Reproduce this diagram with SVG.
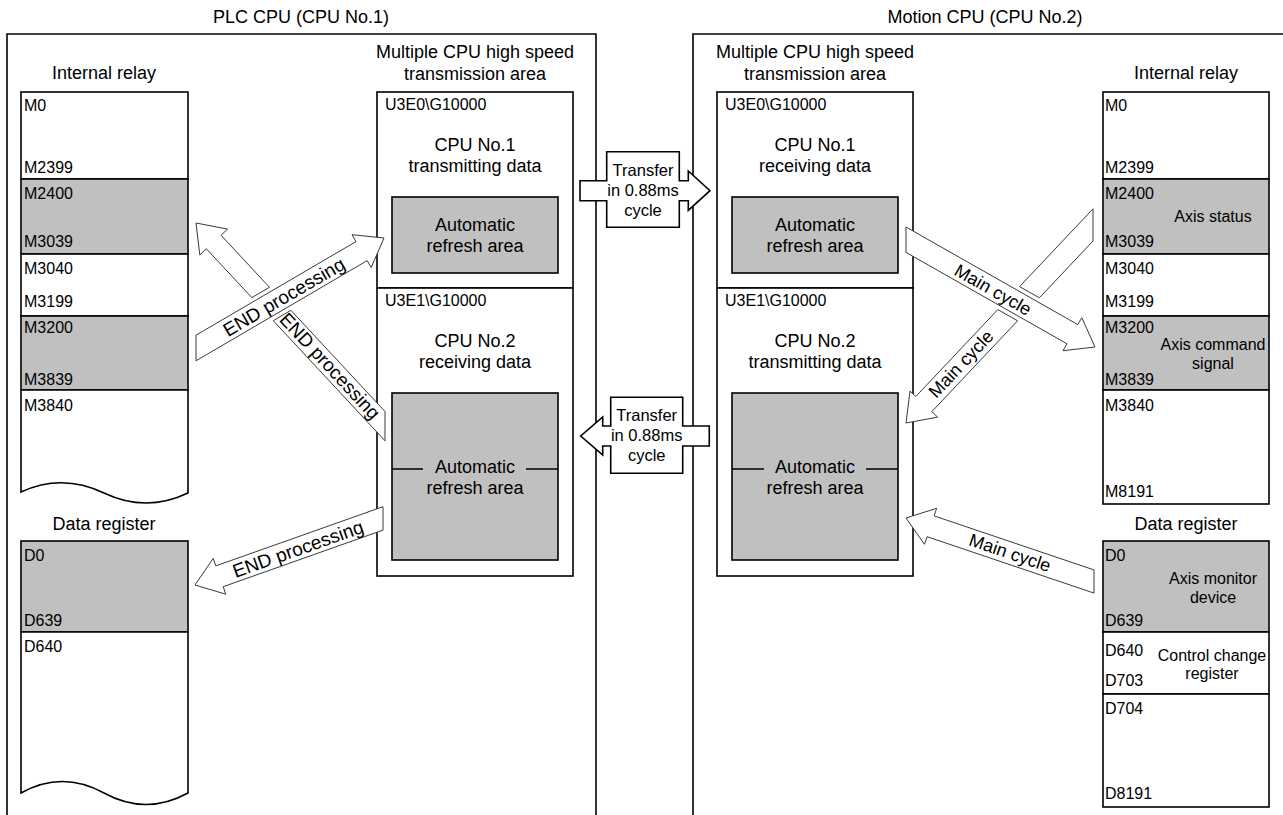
<svg xmlns="http://www.w3.org/2000/svg" width="1283" height="815" viewBox="0 0 1283 815">
<style>
.t{font-family:"Liberation Sans",Arial,sans-serif;fill:#000}
.h{font-size:18px}
.s{font-size:16px}
.m{text-anchor:middle}
.box{fill:#fff;stroke:#000;stroke-width:1.6}
.gray{fill:#c0c0c0;stroke:#000;stroke-width:1.6}
.ln{fill:none;stroke:#000;stroke-width:1.6}
.arr{fill:#fff;stroke:#3a3a3a;stroke-width:1}
.xfer{fill:#fff;stroke:#000;stroke-width:1.6}
.al{font-size:19px;text-anchor:middle}
</style>
<rect width="1283" height="815" fill="#fff"/>

<g id="plc-cpu">
<text class="t h m" x="301" y="23">PLC CPU (CPU No.1)</text>
<path class="ln" d="M7,820 V34 H596 V820"/>
</g>
<g id="motion-cpu">
<text class="t h m" x="985" y="23">Motion CPU (CPU No.2)</text>
<path class="ln" d="M693,820 V34 H1290"/>
</g>

<g id="plc-internal-relay">
<text class="t h m" x="104" y="79">Internal relay</text>
<rect class="box" x="21" y="92" width="167" height="87"/>
<rect class="gray" x="21" y="179" width="167" height="75"/>
<rect class="box" x="21" y="254" width="167" height="62"/>
<rect class="gray" x="21" y="316" width="167" height="74"/>
<path class="box" d="M21,390 H188 V493 Q146,513 104,493 T21,492 Z"/>
<g class="t s">
<text x="24" y="111">M0</text>
<text x="24" y="173">M2399</text>
<text x="24" y="199">M2400</text>
<text x="24" y="247">M3039</text>
<text x="24" y="274">M3040</text>
<text x="24" y="307">M3199</text>
<text x="24" y="333">M3200</text>
<text x="24" y="385">M3839</text>
<text x="24" y="411">M3840</text>
</g>
</g>

<g id="plc-data-register">
<text class="t h m" x="104" y="530">Data register</text>
<rect class="gray" x="21" y="541" width="167" height="91"/>
<path class="box" d="M21,632 H188 V793 Q146,816 104,793 T21,793 Z"/>
<g class="t s">
<text x="24" y="561">D0</text>
<text x="24" y="626">D639</text>
<text x="24" y="652">D640</text>
</g>
</g>

<g id="plc-transmission-area">
<text class="t h m" x="475" y="58">Multiple CPU high speed</text>
<text class="t h m" x="475" y="80">transmission area</text>
<rect class="box" x="377" y="92" width="196" height="196"/>
<rect class="box" x="377" y="288" width="196" height="288"/>
<rect class="gray" x="392" y="197" width="166" height="76"/>
<rect class="gray" x="392" y="393" width="166" height="167"/>
<path class="ln" d="M392,469 H423 M526,469 H558"/>
<text class="t s" x="385" y="110">U3E0\G10000</text>
<text class="t h m" x="475" y="151">CPU No.1</text>
<text class="t h m" x="475" y="172">transmitting data</text>
<text class="t h m" x="475" y="231">Automatic</text>
<text class="t h m" x="475" y="252">refresh area</text>
<text class="t s" x="385" y="306">U3E1\G10000</text>
<text class="t h m" x="475" y="347">CPU No.2</text>
<text class="t h m" x="475" y="368">receiving data</text>
<text class="t h m" x="475" y="473">Automatic</text>
<text class="t h m" x="475" y="494">refresh area</text>
</g>

<g id="motion-transmission-area">
<text class="t h m" x="815" y="58">Multiple CPU high speed</text>
<text class="t h m" x="815" y="80">transmission area</text>
<rect class="box" x="717" y="92" width="196" height="196"/>
<rect class="box" x="717" y="288" width="196" height="288"/>
<rect class="gray" x="732" y="197" width="166" height="76"/>
<rect class="gray" x="732" y="393" width="166" height="167"/>
<path class="ln" d="M732,469 H764 M866,469 H898"/>
<text class="t s" x="725" y="110">U3E0\G10000</text>
<text class="t h m" x="815" y="151">CPU No.1</text>
<text class="t h m" x="815" y="172">receiving data</text>
<text class="t h m" x="815" y="231">Automatic</text>
<text class="t h m" x="815" y="252">refresh area</text>
<text class="t s" x="725" y="306">U3E1\G10000</text>
<text class="t h m" x="815" y="347">CPU No.2</text>
<text class="t h m" x="815" y="368">transmitting data</text>
<text class="t h m" x="815" y="473">Automatic</text>
<text class="t h m" x="815" y="494">refresh area</text>
</g>

<g id="motion-internal-relay">
<text class="t h m" x="1186" y="79">Internal relay</text>
<rect class="box" x="1103" y="92" width="166" height="87"/>
<rect class="gray" x="1103" y="179" width="166" height="75"/>
<rect class="box" x="1103" y="254" width="166" height="62"/>
<rect class="gray" x="1103" y="316" width="166" height="74"/>
<rect class="box" x="1103" y="390" width="166" height="114"/>
<g class="t s">
<text x="1105" y="111">M0</text>
<text x="1105" y="173">M2399</text>
<text x="1105" y="199">M2400</text>
<text x="1105" y="247">M3039</text>
<text x="1105" y="274">M3040</text>
<text x="1105" y="307">M3199</text>
<text x="1105" y="333">M3200</text>
<text x="1105" y="385">M3839</text>
<text x="1105" y="411">M3840</text>
<text x="1105" y="497">M8191</text>
<text class="m" x="1213" y="222">Axis status</text>
<text class="m" x="1213" y="350">Axis command</text>
<text class="m" x="1213" y="369">signal</text>
</g>
</g>

<g id="motion-data-register">
<text class="t h m" x="1186" y="530">Data register</text>
<rect class="gray" x="1103" y="541" width="166" height="91"/>
<rect class="box" x="1103" y="632" width="166" height="62"/>
<rect class="box" x="1103" y="694" width="166" height="113"/>
<g class="t s">
<text x="1105" y="561">D0</text>
<text x="1105" y="626">D639</text>
<text x="1105" y="656">D640</text>
<text x="1105" y="686">D703</text>
<text x="1105" y="714">D704</text>
<text x="1105" y="799">D8191</text>
<text class="m" x="1213" y="584">Axis monitor</text>
<text class="m" x="1213" y="603">device</text>
<text class="m" x="1212" y="661">Control change</text>
<text class="m" x="1212" y="679">register</text>
</g>
</g>

<g id="connectors">
<polygon class="xfer" points="580,180.7 606.7,180.7 606.7,151.7 679.3,151.7 679.3,180.7 688.3,180.7 688.3,171 710,190.7 688.3,210.4 688.3,200.7 679.3,200.7 679.3,227.3 606.7,227.3 606.7,200.7 580,200.7"/>
<text class="t m" style="font-size:16.5px" x="643" y="176">Transfer</text>
<text class="t m" style="font-size:16.5px" x="643" y="196">in 0.88ms</text>
<text class="t m" style="font-size:16.5px" x="643" y="216">cycle</text>

<polygon class="xfer" points="709.3,426 682.7,426 682.7,397.3 610.7,397.3 610.7,426 602.7,426 602.7,417 580.7,436 602.7,455 602.7,446 610.7,446 610.7,473.3 682.7,473.3 682.7,446 709.3,446"/>
<text class="t m" style="font-size:16.5px" x="646.7" y="421">Transfer</text>
<text class="t m" style="font-size:16.5px" x="646.7" y="441">in 0.88ms</text>
<text class="t m" style="font-size:16.5px" x="646.7" y="461">cycle</text>

<polygon class="arr" points="196,223 227.6,229.1 221,235.2 269.5,287.3 251.8,297.6 206.4,248.8 199.8,254.9"/>
<polygon class="arr" points="290.9,310.3 385,411.5 385,440.8 273.3,320.7"/>
<text class="t al" transform="translate(330,366) rotate(47.06)" y="6.5">END processing</text>

<polygon class="arr" points="196,335.2 356,241.6 352,234.7 384,238 371.2,267.5 367.2,260.6 196,360.8"/>
<text class="t al" transform="translate(284,297) rotate(-30.3)" y="6.5">END processing</text>

<polygon class="arr" points="383,506.7 215.8,565.9 213.2,558.4 195,585 225.8,594.2 223.2,586.7 383,530.1"/>
<text class="t al" transform="translate(298,549) rotate(-19.5)" y="6.5">END processing</text>

<polygon class="arr" points="1093,208.8 1019.6,286.6 1039.4,297.8 1093,241"/>
<polygon class="arr" points="997.8,309.6 915.8,396.5 910,391.1 906,423 937.6,417.1 931.8,411.7 1017.6,320.8"/>
<text class="t al" style="font-size:18px" transform="translate(961,364) rotate(-46.6)" y="6">Main cycle</text>

<polygon class="arr" points="906,227 1077.8,324.6 1081.8,317.7 1095,347 1063,350.7 1067,343.8 906,252.4"/>
<text class="t al" style="font-size:18px" transform="translate(993,290) rotate(29.6)" y="6">Main cycle</text>

<polygon class="arr" points="1094,569.9 934.1,515.9 936.7,508.3 906,518 924.5,544.3 927.1,536.7 1094,593.1"/>
<text class="t al" style="font-size:18px" transform="translate(1010,553) rotate(18.7)" y="6">Main cycle</text>
</g>
</svg>
